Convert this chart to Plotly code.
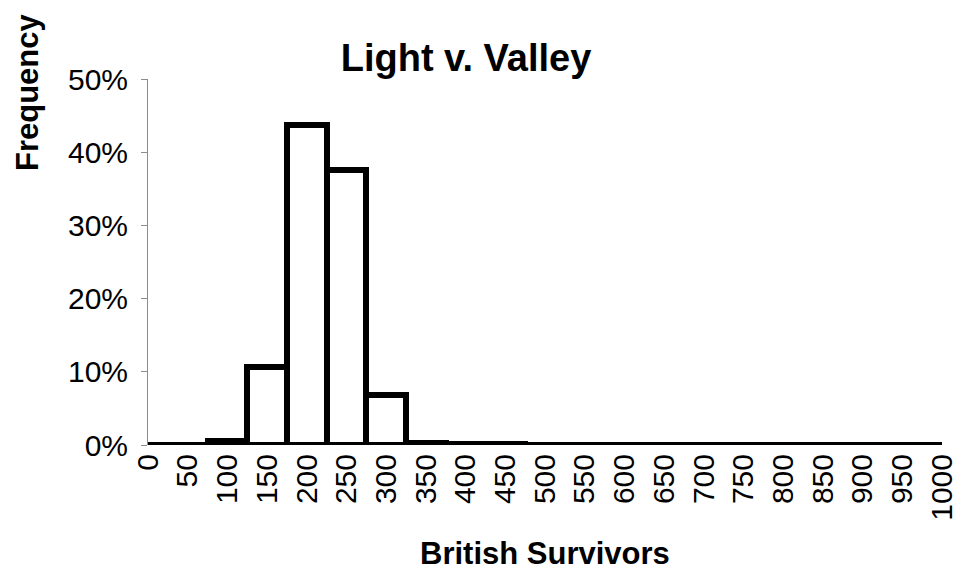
import plotly.graph_objects as go

# Data: bin labels (British survivors) and frequencies
categories = list(range(0, 1001, 50))
frequency = [0.0003, 0.0003, 0.006, 0.107, 0.437, 0.376, 0.068, 0.003, 0.0012, 0.0010,
             0.0006, 0.0003, 0.0003, 0.0003, 0.0003, 0.0003, 0.0003, 0.0003, 0.0003, 0.0003, 0.0003]
tick_labels = [str(c) for c in categories]
y_ticks = [0, 0.1, 0.2, 0.3, 0.4, 0.5]

FONT = "Liberation Sans, Arial, sans-serif"

fig = go.Figure()
fig.add_trace(go.Bar(
    x=categories, y=frequency, width=50,
    marker=dict(color="white", line=dict(color="black", width=6)),
    hoverinfo="skip",
))

# page has an 8px body margin, so the figure is drawn 8px smaller and offset
OFF = 8
W, H = 969 - OFF, 574 - OFF
L, R, T, B = 148 - OFF, 942 - OFF, 79 - OFF, 445 - OFF

fig.update_layout(
    width=W, height=H,
    margin=dict(l=L, r=W - R, t=T, b=H - B, pad=0),
    paper_bgcolor="white", plot_bgcolor="white",
    showlegend=False, bargap=0,
    font=dict(family=FONT, color="black"),
    title=dict(text="<b>Light v. Valley</b>", x=(466 - OFF) / W, xanchor="center",
               y=1 - (58 - OFF) / H, yanchor="middle", xref="container", yref="container",
               font=dict(size=38, family=FONT, color="black")),
    xaxis=dict(range=[0, 1000], tickmode="array", tickvals=categories, ticktext=tick_labels,
               tickangle=-90, tickfont=dict(size=30, family=FONT, color="black"),
               showgrid=False, zeroline=False, showline=False, ticks="", ticklabelstandoff=2,
               automargin=False),
    yaxis=dict(range=[0, 0.5], tickmode="array", tickvals=y_ticks, tickformat=".0%",
               tickfont=dict(size=30, family=FONT, color="black"),
               showgrid=False, zeroline=False, showline=True, linecolor="#8c8c8c", linewidth=1,
               ticks="outside", ticklen=6, tickcolor="#8c8c8c", ticklabelstandoff=7,
               automargin=False),
    annotations=[
        dict(text="<b>Frequency</b>", textangle=-90, xref="paper", yref="paper",
             x=(19 - L) / (R - L), y=(B - (92 - OFF)) / (B - T), xanchor="center", yanchor="middle",
             showarrow=False, font=dict(size=31, family=FONT, color="black")),
        dict(text="<b>British Survivors</b>", xref="paper", yref="paper",
             x=(537 - L) / (R - L), y=(B - (553 - OFF)) / (B - T), xanchor="center", yanchor="middle",
             showarrow=False, font=dict(size=31, family=FONT, color="black")),
    ],
)

fig.write_html("out.html")
